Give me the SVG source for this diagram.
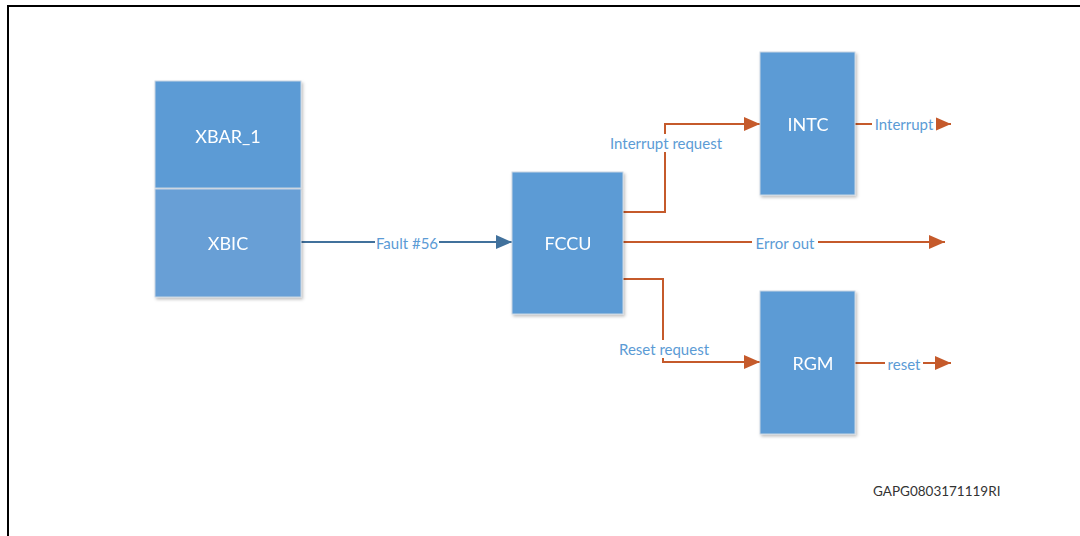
<svg xmlns="http://www.w3.org/2000/svg" width="1080" height="536" viewBox="0 0 1080 536">
  <style>
    .blk { fill: #5B9BD5; stroke: #C9D6E3; stroke-width: 1; }
    .blk-lt { fill: #679FD6; stroke: #C9D6E3; stroke-width: 1; }
    .lbl { font-family: Lato, "Liberation Sans", sans-serif; font-size: 18px; fill: #FFFFFF; text-anchor: middle; dominant-baseline: central; }
    .sig { font-family: Lato, "Liberation Sans", sans-serif; font-size: 15px; fill: #5B9BD5; text-anchor: middle; dominant-baseline: central; }
    .sig-bg { fill: #FFFFFF; }
    .blue { fill: none; stroke: #41719C; stroke-width: 2; }
    .orange { fill: none; stroke: #C55A2B; stroke-width: 2; }
    .tag { font-family: Lato, "Liberation Sans", sans-serif; font-size: 13.5px; fill: #333333; }
  </style>
  <defs>
    <marker id="arrowBlue" viewBox="0 0 16 14" refX="16" refY="7" markerWidth="16" markerHeight="14" markerUnits="userSpaceOnUse" orient="auto">
      <path d="M0,0 L16,7 L0,14 Z" fill="#41719C"/>
    </marker>
    <marker id="arrowOrange" viewBox="0 0 16 14" refX="16" refY="7" markerWidth="16" markerHeight="14" markerUnits="userSpaceOnUse" orient="auto">
      <path d="M0,0 L16,7 L0,14 Z" fill="#C55A2B"/>
    </marker>
    <filter id="shadow" x="-10%" y="-10%" width="125%" height="125%">
      <feDropShadow dx="1.5" dy="2" stdDeviation="1.5" flood-color="#000000" flood-opacity="0.25"/>
    </filter>
  </defs>

  <rect x="0" y="0" width="1080" height="536" fill="#FFFFFF"/>

  <!-- outer frame -->
  <path d="M8,540 V6 H1084" fill="none" stroke="#000000" stroke-width="2"/>

  <!-- connectors -->
  <g id="connectors">
    <path class="blue" d="M301,242 H512" marker-end="url(#arrowBlue)"/>
    <path class="orange" d="M623,212 H665 V124 H760" marker-end="url(#arrowOrange)"/>
    <path class="orange" d="M855,124 H951" marker-end="url(#arrowOrange)"/>
    <path class="orange" d="M623,242 H945" marker-end="url(#arrowOrange)"/>
    <path class="orange" d="M623,279 H663 V362 H760" marker-end="url(#arrowOrange)"/>
    <path class="orange" d="M855,363 H951" marker-end="url(#arrowOrange)"/>

    <!-- connector labels -->
    <rect class="sig-bg" x="375" y="234" width="64" height="17"/>
    <text class="sig" x="407" y="243">Fault #56</text>
    <rect class="sig-bg" x="605" y="134" width="122" height="18"/>
    <text class="sig" x="666" y="143">Interrupt request</text>
    <rect class="sig-bg" x="872" y="116" width="64" height="17"/>
    <text class="sig" x="904" y="124">Interrupt</text>
    <rect class="sig-bg" x="752" y="234" width="66" height="17"/>
    <text class="sig" x="785" y="243">Error out</text>
    <rect class="sig-bg" x="614" y="340" width="100" height="18"/>
    <text class="sig" x="664" y="349">Reset request</text>
    <rect class="sig-bg" x="885" y="355" width="38" height="17"/>
    <text class="sig" x="904" y="364">reset</text>
  </g>

  <!-- blocks -->
  <g id="xbar1" filter="url(#shadow)">
    <rect class="blk" x="155" y="81" width="146" height="107"/>
    <text class="lbl" x="228" y="136">XBAR_1</text>
  </g>
  <g id="xbic" filter="url(#shadow)">
    <rect class="blk-lt" x="155" y="189" width="146" height="108"/>
    <text class="lbl" x="228" y="243">XBIC</text>
  </g>
  <g id="fccu" filter="url(#shadow)">
    <rect class="blk" x="512" y="172" width="111" height="142"/>
    <text class="lbl" x="568" y="243">FCCU</text>
  </g>
  <g id="intc" filter="url(#shadow)">
    <rect class="blk" x="760" y="52" width="95" height="143"/>
    <text class="lbl" x="808" y="124">INTC</text>
  </g>
  <g id="rgm" filter="url(#shadow)">
    <rect class="blk" x="760" y="291" width="95" height="143"/>
    <text class="lbl" x="813" y="363">RGM</text>
  </g>

  <text class="tag" x="873" y="496">GAPG0803171119RI</text>
</svg>
